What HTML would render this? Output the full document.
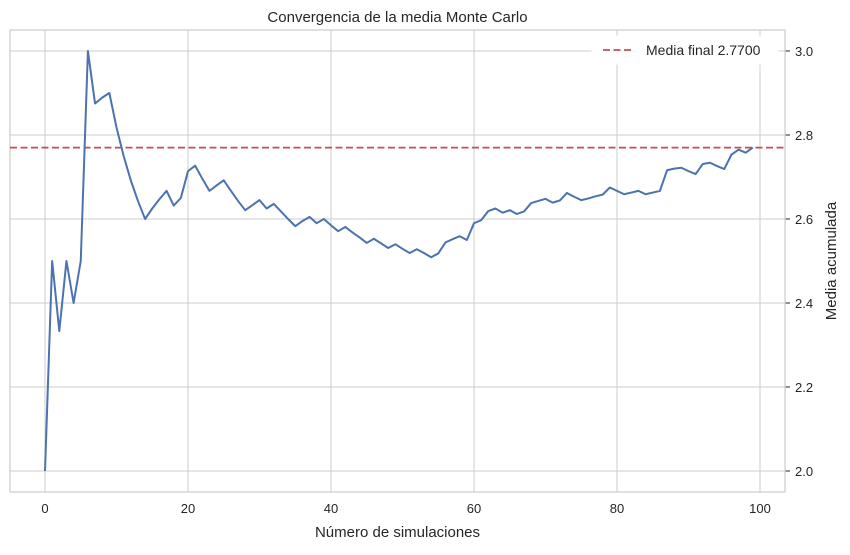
<!DOCTYPE html>
<html><head><meta charset="utf-8"><style>
body{margin:0;background:#fff}
svg text{font-family:"Liberation Sans","DejaVu Sans",sans-serif;fill:#262626}
</style></head><body>
<svg width="850" height="550" id="c">
<g id="g"></g>
</svg>
<script>
const xTicks=[0,20,40,60,80,100];
const yTicks=[2.0,2.2,2.4,2.6,2.8,3.0];
const yTickLabels=["2.0","2.2","2.4","2.6","2.8","3.0"];
const means=[2,2.5,2.333,2.5,2.4,2.5,3.0,2.875,2.889,2.9,2.818,2.75,2.692,2.643,2.6,2.625,2.647,2.667,2.632,2.65,
2.714,2.727,2.696,2.667,2.68,2.692,2.667,2.643,2.621,2.633,2.645,2.625,2.636,2.618,2.6,2.583,2.595,2.605,2.590,2.6,
2.585,2.571,2.581,2.568,2.556,2.543,2.553,2.542,2.531,2.54,2.529,2.519,2.528,2.519,2.509,2.518,2.544,2.552,2.559,2.55,
2.590,2.597,2.619,2.625,2.615,2.621,2.612,2.618,2.638,2.643,2.648,2.639,2.644,2.662,2.653,2.645,2.649,2.654,2.658,2.675,
2.667,2.659,2.663,2.667,2.659,2.663,2.667,2.716,2.72,2.722,2.714,2.707,2.731,2.734,2.726,2.719,2.753,2.765,2.758,2.77];
const finalMean=2.77;
const L=10,R=785,T=30,B=492;
const X=v=>45+(v-0)*(760-45)/100;
const Y=v=>471-(v-2)*420;
const g=document.getElementById('g');
const NS='http://www.w3.org/2000/svg';
function el(t,a,p){const e=document.createElementNS(NS,t);for(const k in a)e.setAttribute(k,a[k]);(p||g).appendChild(e);return e;}
xTicks.forEach(v=>{
 const l=el('line',{x1:X(v),x2:X(v),y1:T,y2:B,stroke:'#cccccc','stroke-width':1});
 
 
 const t=el('text',{x:X(v),y:B+21,'text-anchor':'middle','font-size':13});
 t.textContent=v;
 
 
});
yTicks.forEach((v,i)=>{
 const l=el('line',{x1:L,x2:R,y1:Y(v),y2:Y(v),stroke:'#cccccc','stroke-width':1});
 
 
 const tk=el('line',{x1:R,x2:R+5,y1:Y(v),y2:Y(v),stroke:'#262626','stroke-width':1});
 
 
 const t=el('text',{x:R+10,y:Y(v)+5,'font-size':13});
 t.textContent=yTickLabels[i];
 
 
});
const fr=el('rect',{x:L,y:T,width:R-L,height:B-T,fill:'none',stroke:'#cccccc','stroke-width':1.2});


const hl=el('line',{x1:L,x2:R,y1:Y(finalMean),y2:Y(finalMean),stroke:'#c44e52','stroke-width':1.8,'stroke-dasharray':'7,3.5'});


const pl=el('polyline',{points:means.map((m,i)=>X(i)+','+Y(m)).join(' '),fill:'none',stroke:'#4c72b0','stroke-width':2,'stroke-linejoin':'round'});


const lg=el('rect',{x:592,y:36,width:186,height:28,fill:'#fff',stroke:'#fff'});


const ll=el('line',{x1:603,x2:633,y1:50,y2:50,stroke:'#c44e52','stroke-width':1.8,'stroke-dasharray':'7,3.5'});


const lt=el('text',{x:646,y:55,'font-size':14});
lt.textContent='Media final 2.7700';


const tt=el('text',{x:(L+R)/2,y:22,'text-anchor':'middle','font-size':15});
tt.textContent='Convergencia de la media Monte Carlo';


const xt=el('text',{x:(L+R)/2,y:537,'text-anchor':'middle','font-size':15});
xt.textContent='Número de simulaciones';


const yt=el('text',{x:0,y:0,'text-anchor':'middle','font-size':15,transform:'translate(836,261) rotate(-90)'});
yt.textContent='Media acumulada';


</script>
</body></html>
